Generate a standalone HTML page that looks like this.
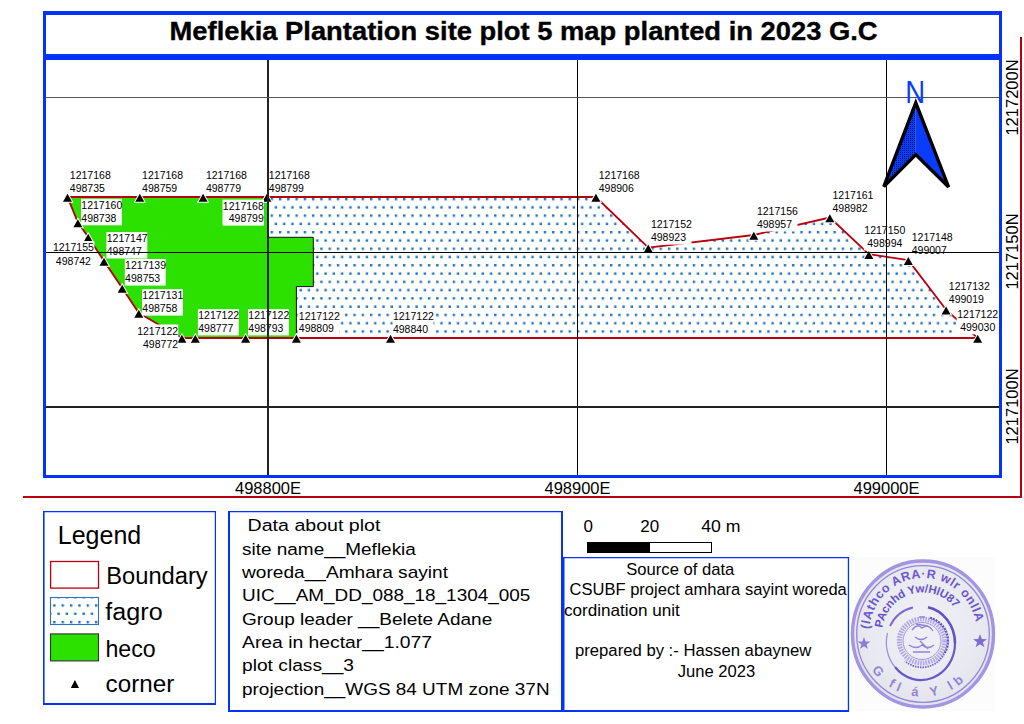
<!DOCTYPE html>
<html><head><meta charset="utf-8"><style>
html,body{margin:0;padding:0;background:#fff;width:1024px;height:724px;overflow:hidden}
svg{display:block}
text{font-family:"Liberation Sans", sans-serif}
</style></head><body>
<svg width="1024" height="724" viewBox="0 0 1024 724">
<defs>
<pattern id="dots" patternUnits="userSpaceOnUse" x="302.83" y="194.96" width="8.277" height="16.55">
<rect x="0.87" y="2.94" width="2.4" height="2.4" fill="#1e72bf"/>
<rect x="5.01" y="11.21" width="2.4" height="2.4" fill="#1e72bf"/>
</pattern>
<pattern id="ldots" patternUnits="userSpaceOnUse" x="52.33" y="601.36" width="8.35" height="16.6">
<rect x="0.87" y="2.94" width="2.4" height="2.4" fill="#1e72bf"/>
<rect x="5.05" y="11.24" width="2.4" height="2.4" fill="#1e72bf"/>
</pattern>
<pattern id="ndots" patternUnits="userSpaceOnUse" x="0" y="0" width="2" height="2">
<rect x="0" y="0" width="1" height="1" fill="#000" fill-opacity="0.6"/>
</pattern>
<clipPath id="mc"><rect x="46" y="60" width="953" height="415"/></clipPath>
</defs>
<rect x="0" y="0" width="1024" height="724" fill="#fff"/>

<g clip-path="url(#mc)">
<polygon points="67.5,197.0 139.8,197.0 203.1,197.0 266.9,197.0 595.9,197.0 648.3,247.7 753.8,235.0 829.8,217.5 868.8,254.2 908.3,260.1 946.1,309.8 977.7,338.0 390.5,338.0 296.4,338.0 245.6,338.0 195.3,338.0 181.9,338.0 138.8,313.0 122.2,288.0 104.0,261.0 88.2,237.0 77.9,222.5" fill="url(#dots)"/>
<polygon points="67.5,197.0 139.8,197.0 203.1,197.0 266.9,197.0 267.5,197.0 267.5,237.3 313.3,237.3 313.3,286.6 296.4,286.6 296.4,338.0 245.6,338.0 195.3,338.0 181.9,338.0 138.8,313.0 122.2,288.0 104.0,261.0 88.2,237.0 77.9,222.5" fill="#2ce000" stroke="#111" stroke-width="1"/>
<polygon points="67.5,197.0 139.8,197.0 203.1,197.0 266.9,197.0 595.9,197.0 648.3,247.7 753.8,235.0 829.8,217.5 868.8,254.2 908.3,260.1 946.1,309.8 977.7,338.0 390.5,338.0 296.4,338.0 245.6,338.0 195.3,338.0 181.9,338.0 138.8,313.0 122.2,288.0 104.0,261.0 88.2,237.0 77.9,222.5" fill="none" stroke="#b8000f" stroke-width="1.8" stroke-linejoin="round"/>
<polygon points="67.5,193.8 72.0,201.8 63.0,201.8" fill="none" stroke="#fff" stroke-width="2" stroke-linejoin="miter"/><polygon points="67.5,193.8 72.0,201.8 63.0,201.8" fill="#000"/>
<polygon points="139.8,193.8 144.3,201.8 135.3,201.8" fill="none" stroke="#fff" stroke-width="2" stroke-linejoin="miter"/><polygon points="139.8,193.8 144.3,201.8 135.3,201.8" fill="#000"/>
<polygon points="203.1,193.8 207.6,201.8 198.6,201.8" fill="none" stroke="#fff" stroke-width="2" stroke-linejoin="miter"/><polygon points="203.1,193.8 207.6,201.8 198.6,201.8" fill="#000"/>
<polygon points="266.9,193.8 271.4,201.8 262.4,201.8" fill="none" stroke="#fff" stroke-width="2" stroke-linejoin="miter"/><polygon points="266.9,193.8 271.4,201.8 262.4,201.8" fill="#000"/>
<polygon points="595.9,193.8 600.4,201.8 591.4,201.8" fill="none" stroke="#fff" stroke-width="2" stroke-linejoin="miter"/><polygon points="595.9,193.8 600.4,201.8 591.4,201.8" fill="#000"/>
<polygon points="648.3,244.5 652.8,252.5 643.8,252.5" fill="none" stroke="#fff" stroke-width="2" stroke-linejoin="miter"/><polygon points="648.3,244.5 652.8,252.5 643.8,252.5" fill="#000"/>
<polygon points="753.8,231.8 758.3,239.8 749.3,239.8" fill="none" stroke="#fff" stroke-width="2" stroke-linejoin="miter"/><polygon points="753.8,231.8 758.3,239.8 749.3,239.8" fill="#000"/>
<polygon points="829.8,214.3 834.3,222.3 825.3,222.3" fill="none" stroke="#fff" stroke-width="2" stroke-linejoin="miter"/><polygon points="829.8,214.3 834.3,222.3 825.3,222.3" fill="#000"/>
<polygon points="868.8,251.0 873.3,259.0 864.3,259.0" fill="none" stroke="#fff" stroke-width="2" stroke-linejoin="miter"/><polygon points="868.8,251.0 873.3,259.0 864.3,259.0" fill="#000"/>
<polygon points="908.3,256.9 912.8,264.9 903.8,264.9" fill="none" stroke="#fff" stroke-width="2" stroke-linejoin="miter"/><polygon points="908.3,256.9 912.8,264.9 903.8,264.9" fill="#000"/>
<polygon points="946.1,306.6 950.6,314.6 941.6,314.6" fill="none" stroke="#fff" stroke-width="2" stroke-linejoin="miter"/><polygon points="946.1,306.6 950.6,314.6 941.6,314.6" fill="#000"/>
<polygon points="977.7,334.8 982.2,342.8 973.2,342.8" fill="none" stroke="#fff" stroke-width="2" stroke-linejoin="miter"/><polygon points="977.7,334.8 982.2,342.8 973.2,342.8" fill="#000"/>
<polygon points="390.5,334.8 395.0,342.8 386.0,342.8" fill="none" stroke="#fff" stroke-width="2" stroke-linejoin="miter"/><polygon points="390.5,334.8 395.0,342.8 386.0,342.8" fill="#000"/>
<polygon points="296.4,334.8 300.9,342.8 291.9,342.8" fill="none" stroke="#fff" stroke-width="2" stroke-linejoin="miter"/><polygon points="296.4,334.8 300.9,342.8 291.9,342.8" fill="#000"/>
<polygon points="245.6,334.8 250.1,342.8 241.1,342.8" fill="none" stroke="#fff" stroke-width="2" stroke-linejoin="miter"/><polygon points="245.6,334.8 250.1,342.8 241.1,342.8" fill="#000"/>
<polygon points="195.3,334.8 199.8,342.8 190.8,342.8" fill="none" stroke="#fff" stroke-width="2" stroke-linejoin="miter"/><polygon points="195.3,334.8 199.8,342.8 190.8,342.8" fill="#000"/>
<polygon points="181.9,334.8 186.4,342.8 177.4,342.8" fill="none" stroke="#fff" stroke-width="2" stroke-linejoin="miter"/><polygon points="181.9,334.8 186.4,342.8 177.4,342.8" fill="#000"/>
<polygon points="138.8,309.8 143.3,317.8 134.3,317.8" fill="none" stroke="#fff" stroke-width="2" stroke-linejoin="miter"/><polygon points="138.8,309.8 143.3,317.8 134.3,317.8" fill="#000"/>
<polygon points="122.2,284.8 126.7,292.8 117.7,292.8" fill="none" stroke="#fff" stroke-width="2" stroke-linejoin="miter"/><polygon points="122.2,284.8 126.7,292.8 117.7,292.8" fill="#000"/>
<polygon points="104.0,257.8 108.5,265.8 99.5,265.8" fill="none" stroke="#fff" stroke-width="2" stroke-linejoin="miter"/><polygon points="104.0,257.8 108.5,265.8 99.5,265.8" fill="#000"/>
<polygon points="88.2,233.8 92.7,241.8 83.7,241.8" fill="none" stroke="#fff" stroke-width="2" stroke-linejoin="miter"/><polygon points="88.2,233.8 92.7,241.8 83.7,241.8" fill="#000"/>
<polygon points="77.9,219.3 82.4,227.3 73.4,227.3" fill="none" stroke="#fff" stroke-width="2" stroke-linejoin="miter"/><polygon points="77.9,219.3 82.4,227.3 73.4,227.3" fill="#000"/>
<g font-size="10.8" fill="#000">
<rect x="69.5" y="168.6" width="40.9" height="26.5" fill="#fff"/><g transform="translate(69.8,0) scale(0.975,1)"><text x="0" y="178.9">1217168</text><text x="0" y="191.9">498735</text></g>
<rect x="141.8" y="168.6" width="40.9" height="26.5" fill="#fff"/><g transform="translate(142.1,0) scale(0.975,1)"><text x="0" y="178.9">1217168</text><text x="0" y="191.9">498759</text></g>
<rect x="205.6" y="168.6" width="40.9" height="26.5" fill="#fff"/><g transform="translate(205.9,0) scale(0.975,1)"><text x="0" y="178.9">1217168</text><text x="0" y="191.9">498779</text></g>
<rect x="268.5" y="168.6" width="40.9" height="26.5" fill="#fff"/><g transform="translate(268.8,0) scale(0.975,1)"><text x="0" y="178.9">1217168</text><text x="0" y="191.9">498799</text></g>
<rect x="598.4" y="168.6" width="40.9" height="26.5" fill="#fff"/><g transform="translate(598.7,0) scale(0.975,1)"><text x="0" y="178.9">1217168</text><text x="0" y="191.9">498906</text></g>
<rect x="650.6" y="218.2" width="40.9" height="26.4" fill="#fff"/><g transform="translate(650.9,0) scale(0.975,1)"><text x="0" y="228.5">1217152</text><text x="0" y="241.4">498923</text></g>
<rect x="756.6" y="205.1" width="40.9" height="26.4" fill="#fff"/><g transform="translate(756.9,0) scale(0.975,1)"><text x="0" y="215.4">1217156</text><text x="0" y="228.3">498957</text></g>
<rect x="832.2" y="188.4" width="40.9" height="26.5" fill="#fff"/><g transform="translate(832.5,0) scale(0.975,1)"><text x="0" y="198.7">1217161</text><text x="0" y="211.7">498982</text></g>
<rect x="863.8" y="223.8" width="42.0" height="26.6" fill="#fff"/><g transform="translate(884.8,0) scale(0.975,1)"><text x="0" y="234.1" text-anchor="middle">1217150</text><text x="0" y="247.2" text-anchor="middle">498994</text></g>
<rect x="911.4" y="231.0" width="40.9" height="26.7" fill="#fff"/><g transform="translate(911.7,0) scale(0.975,1)"><text x="0" y="241.3">1217148</text><text x="0" y="254.5">499007</text></g>
<rect x="948.5" y="280.2" width="40.9" height="26.5" fill="#fff"/><g transform="translate(948.8,0) scale(0.975,1)"><text x="0" y="290.5">1217132</text><text x="0" y="303.5">499019</text></g>
<rect x="956.7" y="308.2" width="42.0" height="26.1" fill="#fff"/><g transform="translate(977.7,0) scale(0.975,1)"><text x="0" y="318.5" text-anchor="middle">1217122</text><text x="0" y="331.1" text-anchor="middle">499030</text></g>
<rect x="392.6" y="309.4" width="40.9" height="26.5" fill="#fff"/><g transform="translate(392.9,0) scale(0.975,1)"><text x="0" y="319.7">1217122</text><text x="0" y="332.7">498840</text></g>
<rect x="298.5" y="309.4" width="40.9" height="26.0" fill="#fff"/><g transform="translate(298.8,0) scale(0.975,1)"><text x="0" y="319.7">1217122</text><text x="0" y="332.2">498809</text></g>
<rect x="248.0" y="309.2" width="40.9" height="26.2" fill="#fff"/><g transform="translate(248.3,0) scale(0.975,1)"><text x="0" y="319.5">1217122</text><text x="0" y="332.2">498793</text></g>
<rect x="197.9" y="309.2" width="40.9" height="26.2" fill="#fff"/><g transform="translate(198.2,0) scale(0.975,1)"><text x="0" y="319.5">1217122</text><text x="0" y="332.2">498777</text></g>
<rect x="136.8" y="324.5" width="41.5" height="26.3" fill="#fff"/><g transform="translate(178.1,0) scale(0.975,1)"><text x="0" y="334.8" text-anchor="end">1217122</text><text x="0" y="347.6" text-anchor="end">498772</text></g>
<rect x="142.0" y="289.2" width="40.9" height="26.4" fill="#fff"/><g transform="translate(142.3,0) scale(0.975,1)"><text x="0" y="299.5">1217131</text><text x="0" y="312.4">498758</text></g>
<rect x="124.8" y="259.0" width="40.9" height="26.6" fill="#fff"/><g transform="translate(125.1,0) scale(0.975,1)"><text x="0" y="269.3">1217139</text><text x="0" y="282.4">498753</text></g>
<rect x="106.4" y="232.1" width="40.9" height="26.4" fill="#fff"/><g transform="translate(106.7,0) scale(0.975,1)"><text x="0" y="242.4">1217147</text><text x="0" y="255.3">498747</text></g>
<rect x="52.4" y="241.1" width="42.0" height="26.7" fill="#fff"/><g transform="translate(73.4,0) scale(0.975,1)"><text x="0" y="251.4" text-anchor="middle">1217155</text><text x="0" y="264.6" text-anchor="middle">498742</text></g>
<rect x="81.0" y="198.8" width="40.9" height="26.5" fill="#fff"/><g transform="translate(81.3,0) scale(0.975,1)"><text x="0" y="209.1">1217160</text><text x="0" y="222.1">498738</text></g>
<rect x="222.5" y="199.6" width="41.5" height="26.0" fill="#fff"/><g transform="translate(263.8,0) scale(0.975,1)"><text x="0" y="209.9" text-anchor="end">1217168</text><text x="0" y="222.4" text-anchor="end">498799</text></g>
</g>
<rect x="267" y="60" width="2" height="415" fill="#222"/>
<rect x="577" y="60" width="1" height="415" fill="#000"/>
<rect x="886" y="60" width="1" height="415" fill="#000"/>
<rect x="46" y="97" width="953" height="1" fill="#555"/>
<rect x="46" y="252" width="953" height="1" fill="#000"/>
<rect x="46" y="406" width="953" height="2" fill="#222"/>
<polygon points="915.8,102.8 915.8,154.6 883.8,186.6" fill="#0a3cff"/>
<polygon points="915.8,102.8 915.8,154.6 883.8,186.6" fill="url(#ndots)"/>
<polygon points="915.8,102.8 948.6,187 915.8,154.6" fill="#0a3cff"/>
<polygon points="915.8,102.8 948.6,187 915.8,154.6 883.8,186.6" fill="none" stroke="#000" stroke-width="3.4" stroke-linejoin="miter"/>
<text transform="translate(915.1,103) scale(0.9,1)" font-size="30.6" text-anchor="middle" fill="#0a3cff">N</text>
</g>
<rect x="43" y="11" width="959" height="4" fill="#0532f8"/>
<rect x="43" y="11" width="3" height="467" fill="#0532f8"/>
<rect x="999" y="11" width="3" height="467" fill="#0532f8"/>
<rect x="43" y="54" width="959" height="6" fill="#0532f8"/>
<rect x="43" y="475" width="959" height="3" fill="#0532f8"/>
<text x="523.6" y="39.8" font-size="25.6" font-weight="bold" stroke="#000" stroke-width="0.35" text-anchor="middle" textLength="708" lengthAdjust="spacingAndGlyphs">Meflekia Plantation site plot 5 map planted in 2023 G.C</text>
<rect x="23" y="496" width="999" height="2" fill="#b8000f"/>
<rect x="1020" y="37" width="2" height="461" fill="#b8000f"/>
<g font-size="16.5" fill="#000">
<text x="268" y="493.7" text-anchor="middle">498800E</text>
<text x="577.5" y="493.7" text-anchor="middle">498900E</text>
<text x="886.5" y="493.7" text-anchor="middle">499000E</text>
<text transform="translate(1017.6,97.5) rotate(-90)" x="0" y="0" text-anchor="middle">1217200N</text>
<text transform="translate(1017.6,251.5) rotate(-90)" x="0" y="0" text-anchor="middle">1217150N</text>
<text transform="translate(1017.6,406.5) rotate(-90)" x="0" y="0" text-anchor="middle">1217100N</text>
</g>
<path d="M43,511h173v194h-173z M44.6,512.2v190.8h170.2v-190.8z" fill="#0532f8" fill-rule="evenodd"/>
<text x="57.8" y="544" font-size="25" fill="#000">Legend</text>
<rect x="50.6" y="561.5" width="47.9" height="26.6" fill="#fff" stroke="#b8000f" stroke-width="1.3"/>
<rect x="50.5" y="597.5" width="48" height="27" fill="url(#ldots)" stroke="#2e72ba" stroke-width="1.1"/>
<rect x="50.5" y="633.9" width="48" height="27" fill="#2ce000" stroke="#333" stroke-width="1.1"/>
<polygon points="74.9,680 79,688 70.8,688" fill="#000"/>
<g font-size="23.2" fill="#000">
<text transform="translate(106.2,583.7) scale(1.023,1)">Boundary</text>
<text transform="translate(105.3,620.2) scale(1.085,1)">fagro</text>
<text transform="translate(105.4,656.6) scale(1.0,1)">heco</text>
<text transform="translate(105.6,692.2) scale(1.045,1)">corner</text>
</g>
<path d="M228,511h335v201h-335z M230,512.2v197.8h331v-197.8z" fill="#0532f8" fill-rule="evenodd"/>
<g font-size="17" fill="#000">
<text transform="translate(247.6,531.4) scale(1.152,1)" x="0" y="0">Data about plot</text>
<text transform="translate(242.0,554.7) scale(1.116,1)" x="0" y="0">site name__Meflekia</text>
<text transform="translate(242.0,578.1) scale(1.124,1)" x="0" y="0">woreda__Amhara sayint</text>
<text transform="translate(242.0,601.4) scale(1.114,1)" x="0" y="0">UIC__AM_DD_088_18_1304_005</text>
<text transform="translate(242.0,624.8) scale(1.118,1)" x="0" y="0">Group leader __Belete Adane</text>
<text transform="translate(242.0,648.1) scale(1.137,1)" x="0" y="0">Area in hectar__1.077</text>
<text transform="translate(242.0,671.4) scale(1.13,1)" x="0" y="0">plot class__3</text>
<text transform="translate(242.0,694.8) scale(1.115,1)" x="0" y="0">projection__WGS 84 UTM zone 37N</text>
</g>
<g font-size="17" fill="#000">
<text x="588.3" y="532" text-anchor="middle">0</text>
<text x="649.8" y="532" text-anchor="middle">20</text>
<text transform="translate(701.3,532) scale(1.04,1)" x="0" y="0">40 m</text>
</g>
<rect x="587" y="542" width="125" height="11" fill="#000"/>
<rect x="650" y="543" width="61" height="9" fill="#fff"/>
<path d="M562,557h287.1v155h-287.1z M564.5,558.3v151.7h283.3v-151.7z" fill="#0532f8" fill-rule="evenodd"/>
<g font-size="16.6" fill="#000">
<text transform="translate(626.3,575.0) scale(1.0,1)">Source of data</text>
<text transform="translate(569.6,595.3) scale(0.996,1)">CSUBF project amhara sayint woreda</text>
<text transform="translate(563.9,615.8) scale(1.03,1)">cordination unit</text>
<text transform="translate(575.0,656.4) scale(1.006,1)">prepared by :- Hassen abaynew</text>
<text transform="translate(677.7,676.6) scale(1.0,1)">June 2023</text>
</g>
<g>
<defs>
<path id="arcTop" d="M 869.2 629.1 A 54 56 0 0 1 976.2 624.3"/>
<path id="arcIn" d="M 882.5 628 A 40.5 40.5 0 0 1 959.5 616"/>
<path id="arcBot" d="M 872 670 A 62 62 0 0 0 974 670"/>
<radialGradient id="sg" cx="0.5" cy="0.45" r="0.55"><stop offset="0" stop-color="#f0f0f5"/><stop offset="0.7" stop-color="#e9e9f1"/><stop offset="1" stop-color="#e2e2ec"/></radialGradient>
</defs>
<rect x="851" y="557" width="144" height="154" fill="#fcfcfd"/>
<ellipse cx="923" cy="634" rx="72" ry="74.5" fill="url(#sg)"/>
<ellipse cx="923" cy="634" rx="70.5" ry="73" fill="none" stroke="#a395e2" stroke-width="3.4"/>
<ellipse cx="923" cy="634" rx="66.3" ry="68.3" fill="none" stroke="#9485db" stroke-width="1.3"/>
<text font-size="12.5" font-weight="bold" fill="#6d59cb" letter-spacing="0.6"><textPath href="#arcTop">(lAthco ARA·R wlr onllAn</textPath></text>
<text font-size="11.5" font-weight="bold" fill="#6652c9" letter-spacing="-0.2"><textPath href="#arcIn">PAcnhd Yw/HlU87</textPath></text>
<text font-size="13" font-weight="bold" fill="#8070d4" fill-opacity="0.85" letter-spacing="4.5"><textPath href="#arcBot">G fl &#225;  Y lb t</textPath></text>
<path d="M 890 626 A 34 36.7 0 0 1 913 607.5" fill="none" stroke="#7a68d0" stroke-width="1.8"/>
<path d="M 928 607.3 A 34 36.7 0 0 1 955 643" fill="none" stroke="#6450c8" stroke-width="2.6"/>
<path d="M 955 643 A 34 36.7 0 0 1 895 667" fill="none" stroke="#6a57ca" stroke-width="2.2"/>
<path d="M 895 667 A 34 36.7 0 0 1 887.5 633" fill="none" stroke="#9d90de" stroke-width="1.3"/>
<ellipse cx="922" cy="641" rx="22.7" ry="22" fill="none" stroke="#9b8edf" stroke-width="5" stroke-opacity="0.75" stroke-dasharray="1.6 1.1"/>
<path d="M 930 617.8 A 24.8 24 0 0 1 944 654" fill="none" stroke="#5e4bc6" stroke-width="2.2" stroke-dasharray="2 1"/>
<path d="M 944 654 A 24.8 24 0 0 1 905 661" fill="none" stroke="#7462cf" stroke-width="1.8" stroke-dasharray="1.5 1"/>
<ellipse cx="922" cy="641" rx="19" ry="18.5" fill="none" stroke="#a397e0" stroke-width="1"/>
<path d="M 912 630 q 5 -7 10 -2 q 6 -5 11 3 M 909 645 q 7 5 13 0 q 6 5 12 0 M 913 652 l 17 0 M 916 624 l 12 2 M 915 637 q 6 5 12 0 M 919 617 l 6 0 M 920 641 l 8 8" fill="none" stroke="#9184da" stroke-width="1.4"/>
<polygon points="864,637 865.6,641.5 870.3,641.6 866.5,644.4 867.9,649 864,646.2 860.1,649 861.5,644.4 857.7,641.6 862.4,641.5" fill="#8b7bd8"/>
<polygon points="980,634 981.8,639 987,639.2 982.8,642.2 984.4,647.3 980,644.2 975.6,647.3 977.2,642.2 973,639.2 978.2,639" fill="#7e6cd3"/>
</g>
</svg></body></html>
